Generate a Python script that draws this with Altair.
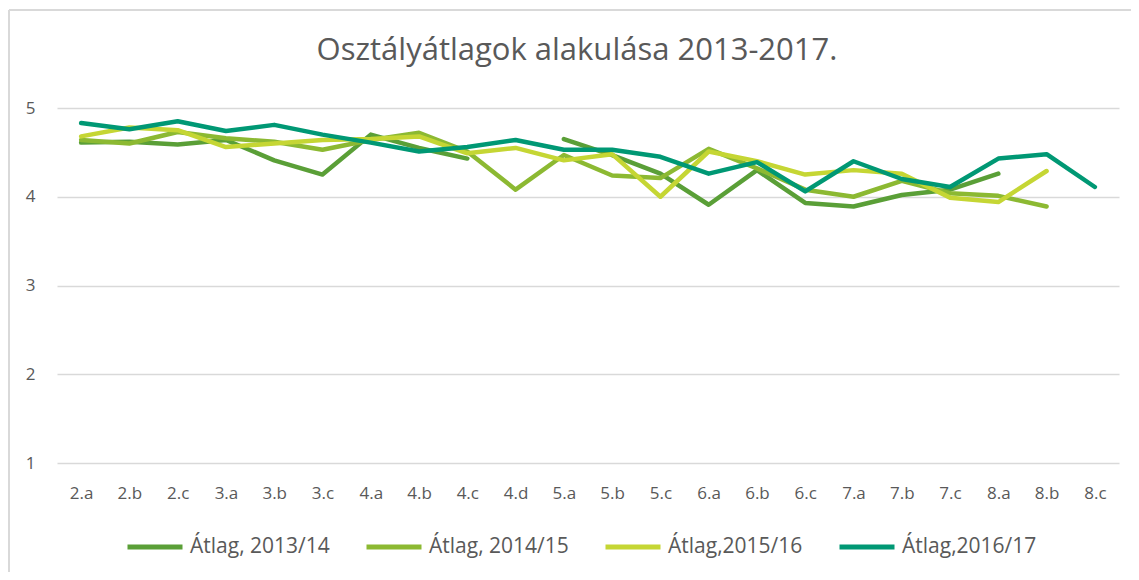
import altair as alt
import pandas as pd

classes = ["2.a", "2.b", "2.c", "3.a", "3.b", "3.c", "4.a", "4.b", "4.c", "4.d", "5.a",
           "5.b", "5.c", "6.a", "6.b", "6.c", "7.a", "7.b", "7.c", "8.a", "8.b", "8.c"]

s2013 = [4.61, 4.62, 4.59, 4.64, 4.41, 4.25, 4.70, 4.55, 4.43, None, 4.65,
         4.47, 4.26, 3.91, 4.30, 3.93, 3.89, 4.02, 4.08, 4.26, None, None]
s2014 = [4.64, 4.60, 4.73, 4.66, 4.62, 4.53, 4.64, 4.72, 4.51, 4.08, 4.47,
         4.24, 4.21, 4.54, 4.32, 4.08, 4.00, 4.18, 4.04, 4.01, 3.89, None]
s2015 = [4.68, 4.78, 4.75, 4.56, 4.60, 4.64, 4.65, 4.68, 4.49, 4.55, 4.41,
         4.48, 4.00, 4.51, 4.40, 4.25, 4.30, 4.26, 3.99, 3.94, 4.29, None]
s2016 = [4.83, 4.76, 4.85, 4.74, 4.81, 4.70, 4.61, 4.51, 4.56, 4.64, 4.53,
         4.53, 4.45, 4.26, 4.39, 4.06, 4.40, 4.20, 4.11, 4.43, 4.48, 4.11]

names = ["Átlag, 2013/14", "Átlag, 2014/15", "Átlag,2015/16", "Átlag,2016/17"]
colors = ["#5a9f37", "#8cb932", "#c5d634", "#009874"]
title_text = "Osztályátlagok alakulása 2013-2017."

rows = []
for name, vals in zip(names, [s2013, s2014, s2015, s2016]):
    for i, (c, v) in enumerate(zip(classes, vals)):
        rows.append({"osztaly": c, "sorozat": name, "ertek": v, "ord": i})
df = pd.DataFrame(rows)

FONT = "Open Sans"
GREY = "#595959"

lines = alt.Chart(df).mark_line(
    strokeWidth=4.5, strokeCap="round", strokeJoin="round",
    invalid="break-paths-show-domains"
).encode(
    x=alt.X("osztaly:N", sort=classes, title=None,
            scale=alt.Scale(paddingInner=0, paddingOuter=0.5, padding=0.5),
            axis=alt.Axis(labelAngle=0, ticks=False, domain=False, grid=False,
                          labelPadding=22, labelFontSize=17, labelColor=GREY,
                          labelFont=FONT)),
    y=alt.Y("ertek:Q", title=None,
            scale=alt.Scale(domain=[1, 5], nice=False, zero=False),
            axis=alt.Axis(values=[1, 2, 3, 4, 5], tickCount=5, ticks=False, domain=False,
                          grid=True, gridColor="#d9d9d9", gridWidth=1.3,
                          labelPadding=22, labelFontSize=17, labelColor=GREY,
                          labelFont=FONT, format="d")),
    color=alt.Color("sorozat:N", sort=names, title=None,
                    scale=alt.Scale(domain=names, range=colors),
                    legend=alt.Legend(orient="none", direction="horizontal",
                                      legendX=68, legendY=409,
                                      symbolType="stroke", symbolSize=3025,
                                      symbolStrokeWidth=5, columnPadding=26,
                                      labelFontSize=21, labelColor=GREY,
                                      labelFont=FONT, labelOffset=5,
                                      labelLimit=300)),
    order=alt.Order("ord:Q"),
)

title = alt.Chart(pd.DataFrame({"t": [title_text]})).mark_text(
    font=FONT, fontSize=31, color=GREY, align="center", baseline="middle"
).encode(text="t:N", x=alt.value(520), y=alt.value(-57))

border = alt.Chart(pd.DataFrame({"k": [0]})).mark_rule(
    color="#d9d9d9", strokeWidth=2
).encode(x=alt.value(-48), x2=alt.value(1075), y=alt.value(-98))
border_left = alt.Chart(pd.DataFrame({"k": [0]})).mark_rule(
    color="#d9d9d9", strokeWidth=2
).encode(x=alt.value(-48), y=alt.value(-98), y2=alt.value(470))

chart = alt.layer(lines, title, border, border_left).properties(
    width=1062, height=355,
    autosize=alt.AutoSizeParams(type="none"),
    padding={"left": 49, "top": 100, "right": 12, "bottom": 109},
).configure(background="white").configure_view(stroke=None)

chart.save("out.html", embed_options={"renderer": "svg", "actions": False})
